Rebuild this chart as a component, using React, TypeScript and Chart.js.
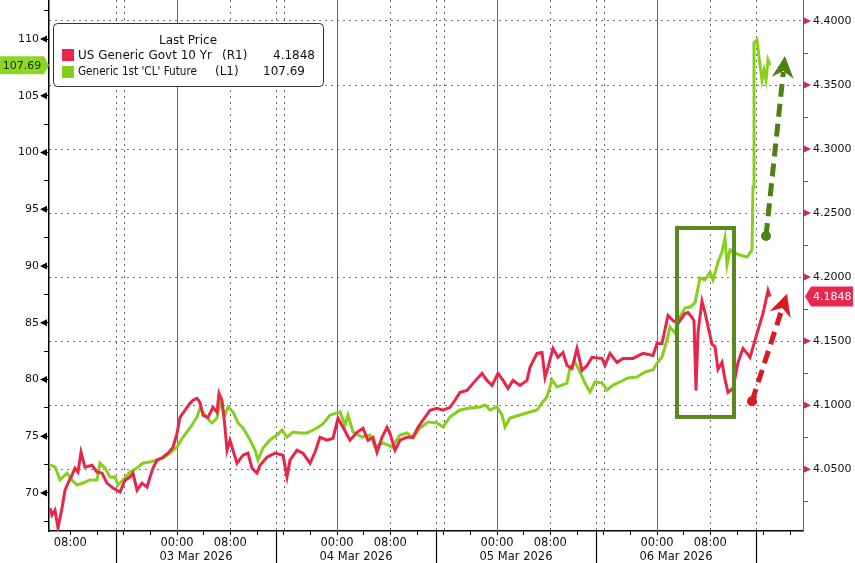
import React, { useEffect, useRef } from "react";
import { Chart, registerables } from "chart.js";

Chart.register(...registerables);

// Time axis: hours since 02 Mar 2026 00:00
const yieldHours = [
  4.95, 5.25, 5.7, 6.15, 6.75, 7.2, 7.65, 8.25, 8.7, 9.15, 9.6, 10.2, 11.25,
  12.0, 12.75, 13.5, 14.4, 15.45, 16.2, 16.95, 17.4, 18.0, 18.75,
  19.5, 19.95, 20.4, 21.0, 21.9, 22.65, 23.4, 24.0, 24.45, 25.2,
  25.95, 26.4, 27.0, 27.45, 27.9, 28.65, 29.4, 30.0, 30.3, 30.75,
  31.2, 31.5, 31.95, 32.4, 33.0, 33.9, 34.65, 35.25, 36.0, 36.45,
  37.5, 38.7, 39.9, 40.5, 40.95, 42.0, 42.9, 43.95, 44.7, 45.45,
  46.5, 47.4, 48.15, 48.9, 49.95, 51.0, 51.9, 52.65, 53.4, 54.0,
  54.75, 55.5, 55.95, 56.7, 57.45, 58.5, 59.4, 60.15, 60.9, 61.95,
  63.0, 63.9, 64.95, 65.7, 66.45, 67.5, 68.4, 69.75, 70.5, 71.25,
  72.15, 72.9, 73.65, 74.4, 75.45, 76.5, 76.95, 78.0, 78.75, 79.2,
  79.65, 80.4, 81.15, 81.9, 82.5, 83.25, 84.0, 84.75, 85.5, 86.25,
  87.75, 88.2, 88.95, 90.0, 90.9, 92.4, 93.9, 95.4, 96.0, 96.75,
  97.65, 98.4, 99.15, 100.2, 100.65, 101.25, 101.55, 101.85, 102.15, 102.75,
  103.2, 103.65, 104.25, 104.7, 105.15, 105.75, 106.2, 106.65, 107.4, 108.15,
  108.9, 109.5, 109.95, 111.0, 111.9, 112.65, 112.95,
];
const yieldValues = [
  4.0196, 4.0142, 4.018, 4.004, 4.0196, 4.0336, 4.0391, 4.0453, 4.0508, 4.0477, 4.0632, 4.0516, 4.0531,
  4.0477, 4.0469, 4.0391, 4.0352, 4.0321, 4.0414, 4.0438, 4.0469, 4.0336, 4.0391,
  4.036, 4.0438, 4.0508, 4.057, 4.0593, 4.0625, 4.0671, 4.078, 4.0905, 4.096,
  4.1014, 4.1038, 4.1053, 4.1022, 4.0921, 4.0905, 4.0983, 4.0944, 4.1092, 4.1038,
  4.0827, 4.0648, 4.0726, 4.0648, 4.0547, 4.0609, 4.0625, 4.0508, 4.0469, 4.0531,
  4.0593, 4.0625, 4.0609, 4.0438, 4.057, 4.0648, 4.0625, 4.0547, 4.0632, 4.0749,
  4.0726, 4.0741, 4.0897, 4.0827, 4.0726, 4.0788, 4.0819, 4.0726, 4.0749, 4.0632,
  4.0749, 4.0827, 4.078, 4.0648, 4.0726, 4.0749, 4.0749, 4.0827, 4.0882, 4.096,
  4.0975, 4.096, 4.0983, 4.1038, 4.11, 4.1115, 4.117, 4.1248, 4.1193, 4.1154,
  4.1248, 4.1193, 4.1131, 4.1193, 4.1154, 4.1193, 4.1295, 4.1404, 4.1411, 4.1217,
  4.1295, 4.1443, 4.1373, 4.1411, 4.131, 4.1287, 4.1443, 4.1271, 4.131, 4.1373,
  4.1365, 4.131, 4.1404, 4.1334, 4.1365, 4.1365, 4.1404, 4.1388, 4.1482, 4.1482,
  4.17, 4.1661, 4.1638, 4.1716, 4.1723, 4.1684, 4.166, 4.1115, 4.157, 4.1811,
  4.1723, 4.1615, 4.1474, 4.1458, 4.1279, 4.1334, 4.1201, 4.11, 4.1131, 4.1334,
  4.1443, 4.1404, 4.1373, 4.156, 4.1716, 4.1895, 4.1848,
];

const crudeHours = [
  4.95, 5.7, 6.45, 6.9, 7.5, 8.25, 9.0, 9.9, 10.95, 12.0,
  12.45, 13.2, 13.95, 14.7, 15.15, 15.9, 16.95, 18.0, 18.9, 19.95,
  21.0, 21.9, 22.95, 24.0, 24.9, 25.95, 27.0, 27.45, 28.5, 29.25,
  30.0, 30.45, 31.2, 31.65, 32.4, 33.15, 33.9, 34.95, 35.7, 36.15,
  36.9, 37.95, 39.0, 39.75, 40.5, 41.4, 42.45, 43.5, 44.4, 45.0,
  45.9, 46.95, 48.45, 49.2, 49.65, 50.4, 51.75, 52.95, 53.7, 54.9,
  56.25, 57.45, 58.5, 59.4, 60.45, 61.65, 63.0, 63.9, 64.95, 66.45,
  67.95, 69.45, 70.2, 70.95, 72.0, 72.75, 73.2, 73.95, 75.45, 76.95,
  78.0, 78.75, 79.5, 80.25, 81.0, 81.75, 82.5, 82.95, 83.7, 84.45,
  85.2, 85.95, 86.7, 87.75, 88.5, 89.4, 90.45, 91.65, 93.0, 94.2,
  95.4, 96.0, 96.75, 97.5, 97.95, 98.7, 99.45, 100.2, 100.95, 101.7,
  102.45, 103.2, 103.95, 104.4, 105.15, 105.75, 106.2, 106.5, 106.95, 107.7,
  108.45, 109.5, 110.25, 110.4, 110.55, 111.0, 111.3, 111.75, 112.05, 112.35,
  112.65, 112.95,
];
const crudeValues = [
  72.47, 72.29, 71.15, 71.41, 71.76, 71.15, 70.7, 70.88, 71.15, 71.15,
  72.64, 72.2, 71.41, 71.41, 70.7, 71.15, 71.85, 72.2, 72.64, 72.73,
  72.91, 73.08, 73.52, 74.05, 74.93, 75.73, 76.7, 77.49, 76.61, 76.17,
  76.61, 77.93, 76.87, 77.58, 77.14, 76.17, 75.73, 74.67, 73.79, 72.91,
  73.96, 74.67, 75.11, 75.55, 74.93, 75.37, 75.29, 75.29, 75.55, 75.73,
  76.08, 76.87, 77.14, 75.99, 76.87, 75.37, 74.93, 75.11, 74.05, 74.41,
  74.05, 75.11, 75.29, 74.85, 75.73, 76.26, 76.17, 75.81, 76.7, 77.31,
  77.49, 77.58, 77.75, 77.31, 77.58, 76.87, 75.81, 76.61, 76.87, 77.14,
  77.31, 77.93, 78.46, 79.96, 79.34, 79.51, 79.69, 81.01, 81.54, 80.66,
  79.69, 78.9, 79.78, 79.69, 79.07, 79.51, 79.78, 80.13, 80.22, 80.66,
  80.84, 81.45, 81.98, 83.48, 84.62, 84.1, 85.51, 86.3, 86.39, 86.74,
  88.94, 88.77, 89.47, 88.77, 90.35, 91.23, 92.47, 90.09, 91.41, 91.14,
  90.97, 90.79, 91.41, 96.96, 109.65, 109.91, 108.41, 106.39, 107.27, 106.39,
  108.15, 107.69,
];

const seriesNames = ["US Generic Govt 10 Yr", "Generic 1st 'CL' Future"];
const seriesTags = ["(R1)", "(L1)"];
const legendTitle = "Last Price";

const leftTicks = [67.5, 70, 72.5, 75, 77.5, 80, 82.5, 85, 87.5, 90, 92.5, 95, 97.5, 100, 102.5, 105, 107.5, 110, 112.5];
const rightTicks = [4.025, 4.05, 4.075, 4.1, 4.125, 4.15, 4.175, 4.2, 4.225, 4.25, 4.275, 4.3, 4.325, 4.35, 4.375, 4.4];
const timeTickHours = [8, 12, 16, 20, 24, 28, 32, 36, 40, 44, 48, 52, 56, 60, 64, 68, 72, 76, 80, 84, 88, 92, 96, 100, 104, 108, 112, 116];
const dayStartHours = [24, 48, 72, 96];
const dottedHours = [16, 32, 40, 56, 64, 80, 88, 104];
const sessionBreakHours = [14.85, 38.85, 62.85, 86.85, 110.85];
const dayLabels = ["03 Mar 2026", "04 Mar 2026", "05 Mar 2026", "06 Mar 2026"];

// Annotations in data units
const highlightBox = { h0: 99.0, h1: 107.55, top: 93.35, bottom: 76.7 };
const crudeArrow = { h0: 112.35, v0: 92.64, h1: 115.2, v1: 108.5 };
const yieldArrow = { h0: 110.25, v0: 4.103, h1: 115.5, v1: 4.187 };

const RED = "#e8264a";
const GREEN = "#86cf1c";
const FONT = "DejaVu Sans";

function dashedArrow(ctx: CanvasRenderingContext2D, x0: number, y0: number, x1: number, y1: number, color: string) {
  const ang = Math.atan2(y1 - y0, x1 - x0);
  const headLen = 20;
  const headW = 11;
  const c = Math.cos(ang), s = Math.sin(ang);
  const bx = x1 - headLen * c, by = y1 - headLen * s;
  ctx.save();
  ctx.strokeStyle = color;
  ctx.fillStyle = color;
  ctx.lineWidth = 5;
  ctx.setLineDash([13, 7]);
  ctx.beginPath();
  ctx.moveTo(x0, y0);
  ctx.lineTo(bx + 4 * c, by + 4 * s);
  ctx.stroke();
  ctx.setLineDash([]);
  ctx.beginPath();
  ctx.moveTo(x1, y1);
  ctx.lineTo(bx - 2 * c - headW * s, by - 2 * s + headW * c);
  ctx.lineTo(bx + 5 * c, by + 5 * s);
  ctx.lineTo(bx - 2 * c + headW * s, by - 2 * s - headW * c);
  ctx.closePath();
  ctx.fill();
  ctx.beginPath();
  ctx.arc(x0, y0, 5, 0, Math.PI * 2);
  ctx.fill();
  ctx.restore();
}

const decor = {
  id: "decor",
  beforeDatasetsDraw(chart: any) {
    const { ctx, chartArea: a, scales } = chart;
    const x = scales.x;
    ctx.save();
    ctx.beginPath();
    ctx.rect(a.left, a.top, a.right - a.left, a.bottom - a.top);
    ctx.clip();
    ctx.lineWidth = 1;
    ctx.strokeStyle = "#6a6a6a";
    dayStartHours.forEach((h) => {
      const px = Math.round(x.getPixelForValue(h)) + 0.5;
      ctx.beginPath();
      ctx.moveTo(px, a.top);
      ctx.lineTo(px, a.bottom);
      ctx.stroke();
    });
    ctx.setLineDash([2, 4]);
    ctx.strokeStyle = "#666";
    [...dottedHours, ...sessionBreakHours].forEach((h) => {
      const px = Math.round(x.getPixelForValue(h)) + 0.5;
      ctx.beginPath();
      ctx.moveTo(px, a.top);
      ctx.lineTo(px, a.bottom);
      ctx.stroke();
    });
    ctx.restore();
  },
  afterDatasetsDraw(chart: any) {
    const { ctx, scales } = chart;
    const x = scales.x, y = scales.y, y1 = scales.y1;
    ctx.save();
    const bx0 = x.getPixelForValue(highlightBox.h0);
    const bx1 = x.getPixelForValue(highlightBox.h1);
    const by0 = y.getPixelForValue(highlightBox.top);
    const by1 = y.getPixelForValue(highlightBox.bottom);
    ctx.strokeStyle = "#5a8a1c";
    ctx.lineWidth = 4;
    ctx.strokeRect(bx0, by0, bx1 - bx0, by1 - by0);
    ctx.restore();
    dashedArrow(ctx, x.getPixelForValue(crudeArrow.h0), y.getPixelForValue(crudeArrow.v0),
      x.getPixelForValue(crudeArrow.h1), y.getPixelForValue(crudeArrow.v1), "#4f8012");
    dashedArrow(ctx, x.getPixelForValue(yieldArrow.h0), y1.getPixelForValue(yieldArrow.v0),
      x.getPixelForValue(yieldArrow.h1), y1.getPixelForValue(yieldArrow.v1), "#dc1a22");
  },
  afterDraw(chart: any) {
    const { ctx, chartArea: a, scales, height } = chart;
    const x = scales.x, y = scales.y, y1 = scales.y1;
    ctx.save();
    ctx.strokeStyle = "#000";
    ctx.lineWidth = 1.2;
    sessionBreakHours.forEach((h) => {
      const px = Math.round(x.getPixelForValue(h)) + 0.5;
      ctx.beginPath();
      ctx.moveTo(px, a.bottom);
      ctx.lineTo(px, height);
      ctx.stroke();
    });
    ctx.fillStyle = "#111";
    ctx.font = `11.5px '${FONT}'`;
    ctx.textAlign = "center";
    ctx.textBaseline = "middle";
    dayLabels.forEach((lab, i) => {
      const mid = (sessionBreakHours[i] + sessionBreakHours[i + 1]) / 2;
      ctx.fillText(lab, x.getPixelForValue(mid), 557);
    });
    ctx.fillStyle = "#000";
    leftTicks.filter((v) => v % 5 === 0).forEach((v) => {
      const py = y.getPixelForValue(v);
      ctx.beginPath();
      ctx.moveTo(a.left - 2, py - 3.5);
      ctx.lineTo(a.left - 2, py + 3.5);
      ctx.lineTo(a.left - 9, py);
      ctx.closePath();
      ctx.fill();
    });
    ctx.fillStyle = "#c2306a";
    rightTicks.filter((v) => Math.round(v * 1000) % 50 === 0).forEach((v) => {
      const py = y1.getPixelForValue(v);
      ctx.beginPath();
      ctx.moveTo(a.right + 1, py - 3.5);
      ctx.lineTo(a.right + 1, py + 3.5);
      ctx.lineTo(a.right + 8, py);
      ctx.closePath();
      ctx.fill();
    });
    const lastCrude = crudeValues[crudeValues.length - 1];
    const lastYield = yieldValues[yieldValues.length - 1];
    const gy = y.getPixelForValue(lastCrude);
    ctx.fillStyle = "#8ed626";
    ctx.beginPath();
    ctx.moveTo(0, gy - 9);
    ctx.lineTo(a.left - 5, gy - 9);
    ctx.lineTo(a.left, gy);
    ctx.lineTo(a.left - 5, gy + 9);
    ctx.lineTo(0, gy + 9);
    ctx.closePath();
    ctx.fill();
    ctx.fillStyle = "#1b2a05";
    ctx.font = `11px '${FONT}'`;
    ctx.textAlign = "center";
    ctx.fillText(lastCrude.toFixed(2), 22, gy + 0.5);
    const ry = y1.getPixelForValue(lastYield);
    ctx.fillStyle = "#e8284e";
    ctx.beginPath();
    ctx.moveTo(a.right + 2, ry);
    ctx.lineTo(a.right + 8, ry - 10);
    ctx.lineTo(853, ry - 10);
    ctx.lineTo(853, ry + 10);
    ctx.lineTo(a.right + 8, ry + 10);
    ctx.closePath();
    ctx.fill();
    ctx.fillStyle = "#fff";
    ctx.textAlign = "left";
    ctx.fillText(lastYield.toFixed(4), 813, ry + 0.5);
    // legend
    ctx.fillStyle = "#fff";
    ctx.strokeStyle = "#333";
    ctx.lineWidth = 1;
    ctx.beginPath();
    ctx.roundRect(53.5, 23.5, 270, 63, 4);
    ctx.fill();
    ctx.stroke();
    ctx.font = `12px '${FONT}'`;
    ctx.fillStyle = "#111";
    ctx.textAlign = "center";
    ctx.fillText(legendTitle, 188, 41);
    ctx.textAlign = "left";
    ctx.fillStyle = RED;
    ctx.fillRect(62, 49, 12, 12);
    ctx.fillStyle = GREEN;
    ctx.fillRect(62, 66, 12, 12);
    ctx.fillStyle = "#111";
    ctx.fillText(seriesNames[0], 78, 56, 134);
    ctx.fillText(seriesTags[0], 222, 56);
    ctx.fillText(seriesNames[1], 78, 72, 119);
    ctx.fillText(seriesTags[1], 215, 72);
    ctx.fillText(lastCrude.toFixed(2), 263, 72);
    ctx.textAlign = "right";
    ctx.fillText(lastYield.toFixed(4), 315, 56);
    ctx.restore();
  },
};

export default function App() {
  const ref = useRef<HTMLCanvasElement>(null);
  useEffect(() => {
    document.body.style.margin = "0";
    const chart = new Chart(ref.current as HTMLCanvasElement, {
      type: "line",
      data: {
        datasets: [
          {
            label: seriesNames[0],
            data: yieldHours.map((h, i) => ({ x: h, y: yieldValues[i] })),
            yAxisID: "y1",
            borderColor: RED,
            borderWidth: 3,
            pointRadius: 0,
            tension: 0,
          },
          {
            label: seriesNames[1],
            data: crudeHours.map((h, i) => ({ x: h, y: crudeValues[i] })),
            yAxisID: "y",
            borderColor: GREEN,
            borderWidth: 3,
            pointRadius: 0,
            tension: 0,
          },
        ],
      },
      options: {
        animation: false,
        responsive: false,
        layout: { padding: 0 },
        plugins: { legend: { display: false }, tooltip: { enabled: false } },
        scales: {
          x: {
            type: "linear",
            min: 4.8,
            max: 117.9,
            afterBuildTicks: (s: any) => { s.ticks = timeTickHours.map((v) => ({ value: v })); },
            afterFit: (s: any) => { s.height = 32; s.paddingLeft = 0; s.paddingRight = 0; },
            ticks: {
              autoSkip: false,
              maxRotation: 0,
              minRotation: 0,
              padding: 1,
              color: "#111",
              font: { family: FONT, size: 11.5 },
              callback: (v: any) => (v % 24 === 0 ? "00:00" : v % 24 === 8 ? "08:00" : ""),
            },
            grid: { drawOnChartArea: false, drawTicks: true, tickLength: 4, tickColor: "#000", tickWidth: 1 },
            border: { color: "#000", width: 1.5 },
          },
          y: {
            type: "linear",
            position: "left",
            min: 66.65,
            max: 113.44,
            afterBuildTicks: (s: any) => { s.ticks = leftTicks.map((v) => ({ value: v })); },
            afterFit: (s: any) => { s.width = 49; s.paddingTop = 0; s.paddingBottom = 0; },
            ticks: {
              autoSkip: false,
              padding: 5,
              color: "#111",
              font: { family: FONT, size: 11 },
              callback: (v: any) => (v % 5 === 0 ? String(v) : ""),
            },
            grid: { drawOnChartArea: false, drawTicks: true, tickLength: 5, tickColor: "#000" },
            border: { color: "#000", width: 1.5 },
          },
          y1: {
            type: "linear",
            position: "right",
            min: 4.0017,
            max: 4.4164,
            afterBuildTicks: (s: any) => { s.ticks = rightTicks.map((v) => ({ value: v })); },
            afterFit: (s: any) => { s.width = 52; s.paddingTop = 0; s.paddingBottom = 0; },
            ticks: {
              autoSkip: false,
              padding: 5,
              color: "#111",
              font: { family: FONT, size: 11 },
              callback: (v: any) => (Math.round(v * 1000) % 50 === 0 ? Number(v).toFixed(4) : ""),
            },
            grid: {
              drawOnChartArea: true,
              drawTicks: true,
              tickLength: 5,
              tickColor: "#c2306a",
              color: (c: any) => (c.tick && Math.round(c.tick.value * 1000) % 50 === 0 ? "#777" : "rgba(0,0,0,0)"),
            },
            border: { color: "#c2306a", width: 1, dash: [2, 4] },
          },
        },
      },
      plugins: [decor],
    } as any);
    return () => chart.destroy();
  }, []);
  return (
    <div style={{ width: 855, height: 563 }}>
      <canvas ref={ref} width={855} height={563} style={{ display: "block" }} />
    </div>
  );
}
